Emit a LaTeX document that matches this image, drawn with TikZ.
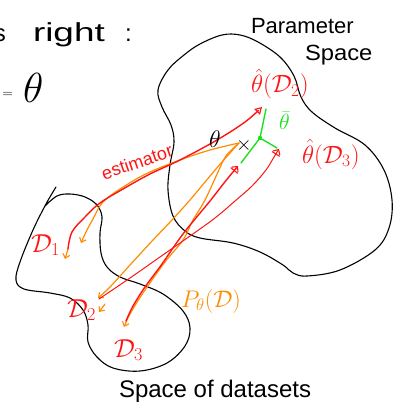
\RequirePackage{fix-cm}
\documentclass[tikz,border=0pt]{standalone}
\usepackage{fontspec}
\setmainfont{Liberation Sans}
\usetikzlibrary{arrows.meta}
\definecolor{inkred}{RGB}{255,20,20}
\definecolor{inkorange}{RGB}{255,140,0}
\definecolor{inkgreen}{RGB}{30,225,30}
\newcommand\fs[1]{\fontsize{#1}{#1}\selectfont}

\begin{document}
\begin{tikzpicture}[x=1pt,y=-1pt, line cap=round, line join=round,
  blob/.style={draw=black, line width=1.1pt},
  est/.style={draw=inkred, line width=1.4pt},
  estthin/.style={draw=inkred, line width=1pt},
  samp/.style={draw=inkorange, line width=1.2pt},
  dev/.style={draw=inkgreen, line width=1.4pt},
  lbl/.style={inner sep=0pt, outer sep=0pt},
  hattip/.style={-{Triangle[open,length=7pt,width=8pt,line width=1.1pt]}},
  crosstip/.style={-{Bar[width=9pt,line width=1.1pt]Straight Barb[length=4pt,width=8pt,line width=1.1pt]}},
  barbtip/.style={-{Straight Barb[length=4pt,width=7pt,line width=1.1pt]}},
]
\useasboundingbox (0,0) rectangle (403,414);

% ---- the two regions ----
\draw[blob] plot[smooth cycle, tension=0.6] coordinates {
  (200,44) (222,35) (240,35) (258,42) (280,57) (294,76) (301,97) (312,112)
  (335,128) (365,145) (384,170) (392,200) (389,228) (375,250) (340,270)
  (307,276) (293,273) (283,265) (260,252) (233,243) (200,238) (185,231)
  (173,216) (168,190) (170,165) (174,142) (171,125) (162,107) (158,90)
  (168,70) (184,55)};
\draw[blob] plot[smooth, tension=0.6] coordinates {
  (56,187) (46,204) (33,230) (20,262) (16,280) (24,289) (50,293) (70,298)
  (83,310) (88,325) (88,342) (97,357) (113,368) (140,371) (167,363)
  (185,346) (190,328) (183,311) (163,294) (140,284) (120,277) (107,267)
  (101,253) (100,233) (102,217) (97,205) (85,197) (70,194) (57,196) (45,206)};

% ---- key points ----
\coordinate (theta) at (239,143);
\coordinate (bar) at (260,138);
\coordinate (th1) at (238,166);
\coordinate (th2) at (262,107);
\coordinate (th3) at (279,149);
\coordinate (d1s) at (68,249);
\coordinate (d1e) at (81,243);
\coordinate (d2s) at (99,299);
\coordinate (d3s) at (126,321);
\coordinate (d3e) at (124,327);

% ---- sampling arrows (orange) ----
\draw[samp, barbtip] plot[smooth, tension=0.6] coordinates {
  (theta) (210,150) (180,160) (150,172) (128,184) (104,201) (93,219) (86,232) (d1e)};
\draw[samp, barbtip] plot[smooth, tension=0.6] coordinates {
  (theta) (222,162) (205,182) (190,200) (172,220) (153,240) (130,265) (110,287) (98,298)};
\draw[samp, barbtip] plot[smooth, tension=0.6] coordinates {
  (theta) (226,156) (218,172) (205,200) (193,220) (183,240) (165,262) (143,293) (130,314) (d3e)};
\draw[samp, barbtip] (d1s) -- (65,259);
\draw[samp, barbtip] (105,304) -- (99,312);

% ---- estimator arrows (red) ----
\draw[est, hattip] plot[smooth, tension=0.6] coordinates {
  (d1s) (72,232) (85,217) (100,203) (123,189) (150,174) (180,160) (217,140) (245,122) (th2)};
\draw[est, crosstip] plot[smooth, tension=0.6] coordinates {
  (d3s) (133,306) (145,287) (162,264) (183,234) (210,201) (224,183) (th1)};
\draw[estthin, crosstip] plot[smooth, tension=0.6] coordinates {
  (d2s) (130,278) (160,257) (190,236) (215,218) (235,201) (252,186) (266,170) (274,157) (th3)};

% ---- spread of the estimates (green) ----
\coordinate (g1) at (241,163);
\coordinate (g2) at (266,109);
\coordinate (g3) at (277,148);
\draw[dev] (bar) -- (g1);
\draw[dev] (bar) -- (g2);
\draw[dev] (bar) -- (g3);
\fill[inkgreen] (bar) circle (2.2pt);

% ---- labels ----
\node[lbl, anchor=base east] (is) at (6,42) {\fs{24}is};
\node[lbl, anchor=base west] (right) at (33,42) {\fs{26}\scalebox{1.42}[1]{right}};
\node[lbl, anchor=base west] (colon) at (125,42) {\fs{24}:};
\node[lbl, anchor=east] (eq) at (13,95) {\fs{14}$=$};
\node[lbl, anchor=base west] (bigtheta) at (23,103) {\fs{42}$\theta$};

\node[lbl, anchor=base west] (param) at (251,34) {\fs{22}Parameter};
\node[lbl, anchor=base west] (space) at (305,61) {\fs{22}\scalebox{1.08}[1]{Space}};

\node[lbl, anchor=base west, text=inkred] (lth2) at (251,93) {\fs{25}$\hat\theta(\mathcal{D}_2)$};
\node[lbl, anchor=base west, text=inkred] (lth3) at (302,163) {\fs{25}$\hat\theta(\mathcal{D}_3)$};
\node[lbl, anchor=base west, text=inkgreen] (lbar) at (279,130) {\fs{22}$\bar\theta$};
\node[lbl, anchor=base west] (ltheta) at (209,147) {\fs{24}$\theta$};
\node[lbl] (cross) at (244,145) {\fs{20}$\times$};
\node[lbl, text=inkred, rotate=19] (lest) at (137,162) {\fs{18}estimator};

\node[lbl, anchor=base west, text=inkred] (ld1) at (31,252) {\fs{26}$\mathcal{D}_1$};
\node[lbl, anchor=base west, text=inkred] (ld2) at (67,317) {\fs{26}$\mathcal{D}_2$};
\node[lbl, anchor=base west, text=inkred] (ld3) at (114,357) {\fs{26}$\mathcal{D}_3$};
\node[lbl, anchor=base west, text=inkorange] (lp) at (181,307) {\fs{24}$P_\theta(\mathcal{D})$};

\node[lbl, anchor=base west] (lds) at (119,397) {\fs{24}Space of datasets};
\end{tikzpicture}
\end{document}
